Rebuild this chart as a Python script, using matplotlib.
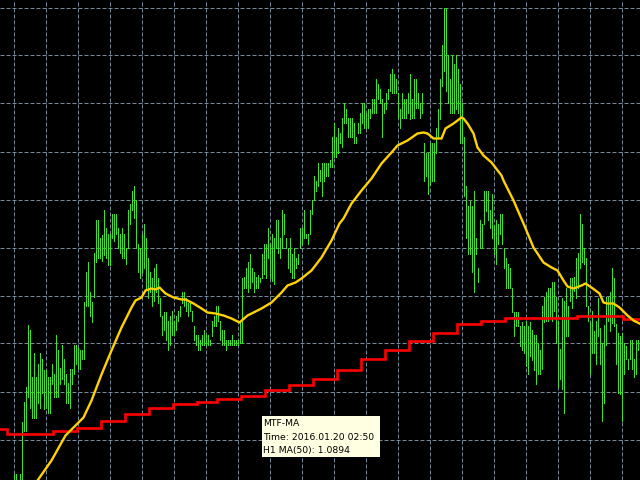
import numpy as np
import matplotlib
matplotlib.use('Agg')
import matplotlib.pyplot as plt
from matplotlib.patches import Rectangle

# EURUSD M5 bars, values in points (1e-5) above base price
base = 1.0886
pt = 1e-5

high_pts = [7, 7, -3, 7, 59, 79, 93, 156, 151, 103,
            127, 103, 117, 127, 122, 110, 111, 103, 103, 117,
            107, 146, 131, 113, 136, 122, 107, 98, 112, 112,
            136, 136, 133, 131, 131, 179, 209, 218, 189, 179,
            228, 261, 261, 243, 245, 271, 252, 247, 247, 266,
            266, 266, 252, 247, 252, 247, 233, 271, 276, 290,
            295, 281, 237, 233, 247, 257, 242, 223, 208, 203,
            213, 217, 203, 183, 165, 169, 169, 160, 165, 170,
            160, 165, 170, 175, 188, 188, 183, 178, 180, 170,
            155, 146, 146, 141, 146, 151, 146, 146, 141, 160,
            165, 175, 175, 160, 151, 151, 141, 141, 141, 146,
            141, 141, 141, 160, 203, 204, 213, 218, 227, 213,
            208, 204, 205, 203, 227, 237, 237, 252, 237, 247,
            242, 261, 261, 242, 271, 266, 242, 233, 242, 227,
            233, 223, 227, 252, 252, 271, 247, 247, 271, 281,
            305, 300, 318, 310, 318, 318, 318, 318, 320, 343,
            358, 343, 353, 348, 363, 377, 372, 363, 363, 363,
            358, 343, 358, 367, 377, 377, 367, 372, 372, 382,
            382, 402, 397, 392, 382, 377, 387, 392, 407, 411,
            407, 402, 387, 372, 387, 382, 382, 387, 407, 382,
            402, 402, 387, 377, 387, 338, 328, 328, 338, 338,
            338, 353, 372, 402, 435, 473, 473, 425, 402, 425,
            417, 425, 412, 397, 377, 343, 295, 275, 280, 275,
            290, 242, 213, 261, 257, 290, 290, 290, 271, 286,
            256, 261, 257, 266, 266, 233, 223, 217, 213, 193,
            169, 169, 169, 155, 159, 155, 160, 155, 159, 151,
            146, 146, 137, 131, 175, 184, 188, 193, 193, 198,
            198, 184, 160, 132, 183, 180, 193, 175, 203, 203,
            204, 223, 228, 267, 257, 233, 223, 175, 159, 170,
            150, 160, 183, 153, 137, 156, 184, 184, 188, 213,
            203, 157, 147, 145, 147, 137, 135, 122, 141, 141,
            122, 141, 141, 141]

low_pts = [-10, -10, -15, -10, -5, 50, 50, 83, 73, 63,
           63, 63, 78, 73, 88, 72, 73, 68, 68, 97,
           83, 83, 83, 97, 102, 97, 78, 78, 73, 97,
           107, 117, 112, 112, 122, 122, 175, 175, 164, 159,
           184, 218, 223, 223, 220, 225, 223, 216, 215, 242,
           240, 247, 233, 228, 223, 223, 217, 233, 257, 271,
           262, 233, 208, 203, 208, 213, 193, 183, 188, 175,
           180, 188, 178, 165, 146, 151, 141, 131, 136, 146,
           146, 151, 160, 165, 178, 175, 170, 165, 170, 160,
           141, 136, 131, 131, 136, 136, 136, 136, 136, 145,
           155, 155, 160, 141, 136, 136, 131, 136, 136, 136,
           136, 136, 136, 137, 138, 193, 193, 188, 193, 198,
           188, 193, 193, 198, 203, 207, 203, 222, 203, 200,
           197, 233, 228, 223, 233, 247, 233, 213, 208, 203,
           203, 213, 217, 233, 237, 242, 242, 237, 247, 266,
           281, 290, 295, 300, 285, 300, 305, 305, 313, 313,
           323, 323, 328, 338, 333, 358, 358, 343, 343, 343,
           338, 338, 348, 348, 358, 353, 353, 353, 363, 367,
           367, 367, 382, 377, 343, 367, 372, 382, 390, 387,
           387, 387, 363, 353, 363, 363, 363, 367, 362, 363,
           363, 373, 373, 363, 367, 300, 305, 287, 297, 300,
           300, 328, 343, 362, 395, 410, 390, 377, 367, 367,
           367, 372, 367, 338, 338, 285, 242, 227, 227, 208,
           188, 227, 198, 233, 233, 257, 270, 261, 252, 242,
           227, 217, 237, 247, 237, 213, 193, 193, 193, 169,
           145, 154, 155, 135, 130, 127, 115, 107, 125, 120,
           110, 97, 107, 107, 112, 159, 160, 160, 165, 160,
           170, 137, 93, 102, 92, 68, 145, 145, 180, 173,
           190, 183, 193, 213, 218, 217, 175, 160, 107, 127,
           127, 117, 145, 117, 60, 78, 136, 160, 150, 158,
           155, 117, 88, 87, 60, 107, 122, 112, 122, 112,
           103, 107, 130, 120]

# M5 moving average (yellow), sampled at bar indices
ma_bar = [12, 19, 26, 32, 35, 39, 44, 49, 54, 59, 61, 64, 66, 69, 71, 73, 76, 80, 84, 86,
          90, 94, 97, 101, 105, 109, 113, 117, 124, 129, 134, 137, 141, 144, 149, 154, 159, 163, 165, 169,
          174, 179, 184, 189, 192, 197, 202, 205, 207, 210, 214, 216, 220, 222, 224, 225, 227, 230, 232, 235,
          239, 244, 245, 250, 255, 260, 265, 269, 272, 275, 277, 280, 284, 286, 289, 293, 295, 297, 300, 303,
          307, 310, 313]
ma_pts = [0, 20, 45, 57, 63, 80, 106, 130, 153, 173, 180, 183, 190, 192, 191, 193, 187, 183, 181, 181,
          177, 172, 168, 167, 165, 162, 158, 165, 172, 178, 188, 195, 198, 202, 210, 223, 240, 257, 262, 277,
          290, 302, 317, 328, 335, 340, 347, 348, 347, 342, 342, 352, 357, 360, 363, 362, 357, 347, 333, 325,
          318, 305, 300, 280, 257, 233, 218, 213, 210, 200, 194, 192, 195, 197, 193, 187, 178, 177, 177, 173,
          165, 160, 157]

# H1 MA(50) shown on M5: one value per hour, starting bar index
h1_start = [-7, -3, 20, 32, 44, 56, 68, 80, 92, 102, 114, 126, 138, 150, 162, 174, 186, 198, 210,
            222, 234, 246, 258, 270, 282, 294, 305]
h1_pts = [52, 47, 50, 53, 60, 67, 73, 76, 79, 82, 85, 91, 96, 102, 111, 122, 130, 140, 147,
          157, 160, 163, 163, 163, 165, 164, 162]

tip_lines = ['MTF-MA', 'Time: 2016.01.20 02:50', 'H1 MA(50): 1.0894']

plt.rcParams['lines.scale_dashes'] = False

fig = plt.figure(figsize=(6.4, 4.8), dpi=100, facecolor='black')
ax = fig.add_axes([0, 0, 1, 1])
ax.set_facecolor('black')

n = len(high_pts)
idx = np.arange(n)
hi = base + np.array(high_pts) * pt
lo = base + np.array(low_pts) * pt

# grid
for g in np.arange(0, n, 16):
    ax.axvline(g, color='#778899', linewidth=0.72, dashes=(2.88, 1.44), zorder=1)
for g in np.arange(41, 480, 48):
    ax.axhline(base + g * pt, color='#778899', linewidth=0.72, dashes=(2.88, 1.44), zorder=1)

ax.vlines(idx, lo, hi, colors='#3ee02e', linewidth=0.5, antialiased=False, zorder=2)

edges = [s - 0.5 for s in h1_start] + [n]
ax.stairs(base + np.array(h1_pts) * pt, edges, baseline=None, color='#ff0000', linewidth=1.9, zorder=3)

ax.plot(ma_bar, base + np.array(ma_pts) * pt, color='#ffd200', linewidth=1.7, zorder=4)

ax.set_xlim(-6.75, n - 0.75)
ax.set_ylim(base + 0.5 * pt, base + 480.5 * pt)
ax.set_axis_off()

# tooltip
fig.patches.append(Rectangle((262 / 640, 1 - 457 / 480), 118 / 640, 41 / 480,
                             transform=fig.transFigure, facecolor='#ffffe1',
                             edgecolor='none', zorder=10))
for k, s in enumerate(tip_lines):
    fig.text(263 / 640, 1 - (424 + 13.5 * k) / 480, s, fontsize=6.7, color='black',
             va='center', ha='left', zorder=11)

fig.savefig('out.png', dpi=100, facecolor='black')
